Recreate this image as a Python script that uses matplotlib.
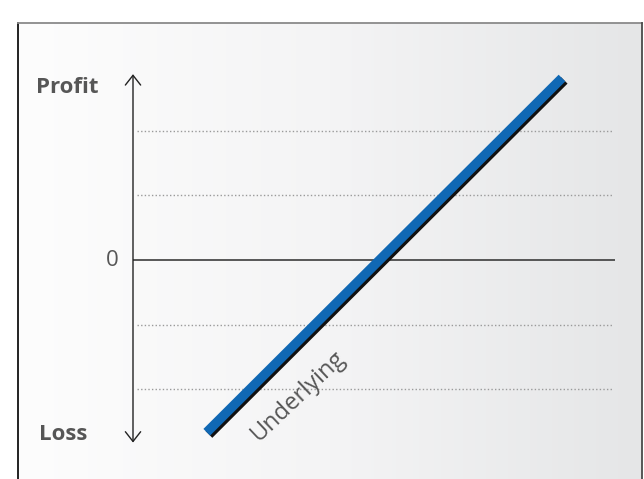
import numpy as np
import matplotlib
matplotlib.use('Agg')
import matplotlib.pyplot as plt
import matplotlib.patheffects as pe

# payoff of a long position in the underlying
underlying = [15.3, 89.0]
payoff = [-2.67, 2.82]
grid_levels = [-2, -1, 1, 2]
axis_span = [-2.83, 2.88]

labels = {'top': 'Profit', 'bottom': 'Loss', 'zero': '0', 'line': 'Underlying'}

text_color = '#565656'
line_color = '#1068b4'

plt.rcParams['font.family'] = ['Open Sans', 'DejaVu Sans']

W, H = 644, 479
fig = plt.figure(figsize=(W / 100, H / 100), dpi=100)

# background panel with a soft horizontal gradient and a frame
bg = fig.add_axes([0, 0, 1, 1])
bg.set_xlim(0, W)
bg.set_ylim(H, 0)
bg.axis('off')
grad = np.linspace(0, 1, 256).reshape(1, -1)
cmap = matplotlib.colors.LinearSegmentedColormap.from_list(
    'panel', ['#fdfdfd', '#f4f4f5', '#e5e6e7'])
bg.imshow(grad, cmap=cmap, aspect='auto', extent=[18, 642, H, 23], zorder=0)
bg.plot([18, 18], [23, H], color='#111111', lw=1.3, zorder=1)
bg.plot([18, 642], [23, 23], color='#8a8a8a', lw=1.3, zorder=1)
bg.plot([642, 642], [23, H], color='#4a4a4a', lw=1.3, zorder=1)

ax = fig.add_axes([133 / W, 19 / H, 482 / W, 400 / H])
ax.set_xlim(0, 100)
ax.set_ylim(-3.1, 3.1)
ax.patch.set_alpha(0)
ax.axis('off')

for lvl in grid_levels:
    ax.plot([0.8, 99.6], [lvl, lvl], color='#9a9a9a', lw=1.0,
            linestyle=(0, (1, 1.6)), zorder=1)
ax.plot([0, 100], [0, 0], color='#3c3c3c', lw=1.2, zorder=2)

ax.annotate('', xy=(0, axis_span[1]), xytext=(0, axis_span[0]),
            arrowprops=dict(arrowstyle='<->,head_length=0.7,head_width=0.55',
                            lw=1.0, color='#222222', shrinkA=0, shrinkB=0),
            zorder=3)

ax.plot(underlying, payoff, color=line_color, lw=6.8, solid_capstyle='butt',
        zorder=4,
        path_effects=[pe.SimpleLineShadow(offset=(1.6, -1.6), shadow_color='#111111',
                                          alpha=1.0),
                      pe.Normal()])

ax.text(-13.7, 2.68, labels['top'], fontsize=16, fontweight='bold',
        color=text_color, ha='center', va='center')
ax.text(-14.4, -2.71, labels['bottom'], fontsize=16, fontweight='bold',
        color=text_color, ha='center', va='center')
ax.text(-4.3, 0.0, labels['zero'], fontsize=16, color=text_color,
        ha='center', va='center')
ax.text(34.2, -2.1, labels['line'], fontsize=17, color=text_color,
        ha='center', va='center', rotation=43.5, rotation_mode='anchor')

fig.savefig('out.png', dpi=100)
